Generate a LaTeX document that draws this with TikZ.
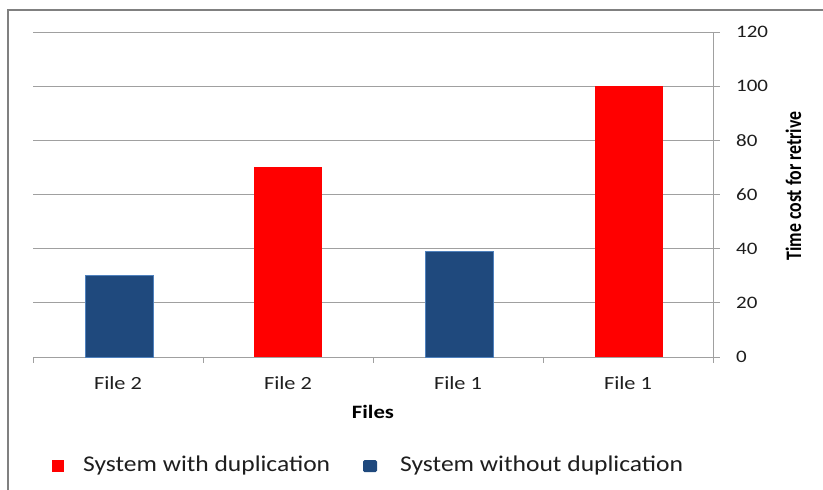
\documentclass[tikz,border=0pt]{standalone}
\usepackage{fontspec}
\setmainfont[FakeStretch=1.2]{Carlito}
\newfontfamily\plainfont{Carlito}
\definecolor{barblue}{RGB}{31,73,125}
\definecolor{barblueedge}{RGB}{79,129,189}
\definecolor{barred}{RGB}{255,0,0}
\definecolor{gridgray}{RGB}{160,160,160}
\definecolor{framegray}{RGB}{128,128,128}
\definecolor{labeltext}{RGB}{30,30,30}
\begin{document}
\begin{tikzpicture}[x=1pt,y=-1pt,
  grid/.style={draw=gridgray,line width=1pt},
  ytick/.style={anchor=west,inner sep=0pt,font=\fontsize{17.5}{20}\selectfont,text=labeltext},
  xtick/.style={anchor=base,inner sep=0pt,font=\fontsize{18.6}{22}\selectfont,text=labeltext},
  bluebar/.style={fill=barblue,draw=barblueedge,line width=0.6pt},
  redbar/.style={fill=barred},
  legtext/.style={anchor=base west,inner sep=0pt,font=\plainfont\fontsize{22.5}{26}\selectfont,text=labeltext}]
% value -> vertical position: 0 at 357, 120 at 32
\def\vs{2.708333}
\useasboundingbox (0,0) rectangle (823,490);
\fill[white] (0,0) rectangle (823,490);
% chart frame (left and top edges)
\draw[framegray,line width=2pt] (8,490) -- (8,10) -- (823,10);

% horizontal gridlines with value labels on the right axis
\foreach \v in {0,20,...,120}{
  \pgfmathsetmacro\yy{357-\v*\vs}
  \draw[grid] (33,\yy) -- (720,\yy);
  \node[ytick] (yl\v) at (736,\yy) {\v};
}
% right value axis
\draw[grid] (713,32) -- (713,357);
% category ticks on the horizontal axis
\foreach \x in {33,203,373,543,713}{
  \draw[grid] (\x,357) -- (\x,363);
}

% bars
\path[bluebar] (85,{357-30*\vs}) rectangle (153,357);
\path[redbar]  (254,{357-70*\vs}) rectangle (322,357);
\path[bluebar] (425,{357-39*\vs}) rectangle (493,357);
\path[redbar]  (595,{357-100*\vs}) rectangle (663,357);

% category labels
\node[xtick] (c1) at (118,389) {File 2};
\node[xtick] (c2) at (288,389) {File 2};
\node[xtick] (c3) at (458,389) {File 1};
\node[xtick] (c4) at (628,389) {File 1};

% axis titles
\node[anchor=base,inner sep=0pt,font=\bfseries\fontsize{18.9}{22}\selectfont] (xt) at (373,418) {Files};
\node[rotate=90,anchor=base,inner sep=0pt] (yt) at (801,186)
  {\resizebox{149pt}{15.5pt}{\plainfont\bfseries\fontsize{17.6}{20}\selectfont Time cost for retrive}};

% legend
\fill[barred] (52,460) rectangle (64,472);
\node[legtext] (l1) at (83,471) {\resizebox{247pt}{\height}{System with duplication}};
\fill[barblue,rounded corners=1.5pt] (363,460) rectangle (377,472);
\node[legtext] (l2) at (400,471) {\resizebox{283pt}{\height}{System without duplication}};
\end{tikzpicture}
\end{document}
